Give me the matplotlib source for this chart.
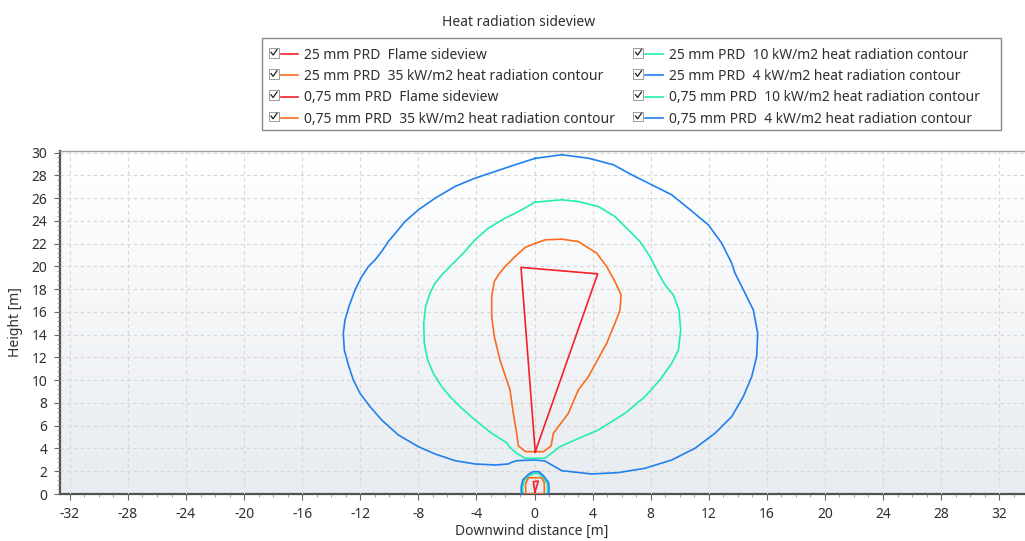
import numpy as np
import matplotlib
matplotlib.use("Agg")
import matplotlib.pyplot as plt
from matplotlib.lines import Line2D
from matplotlib.patches import Rectangle
from matplotlib.legend_handler import HandlerBase
from matplotlib.ticker import MultipleLocator

plt.rcParams['font.family'] = ['Noto Sans', 'DejaVu Sans']
plt.rcParams['axes.unicode_minus'] = False

# ---- data -------------------------------------------------------------
# 25 mm PRD flame side view (triangle, closed)
flame_25_x = [0.05, -0.93, 4.35, 0.05]
flame_25_y = [3.70, 19.92, 19.35, 3.70]

# 25 mm PRD 35 kW/m2 contour
c35_25_x = [0.03, 0.72, 1.87, 3.02, 4.28, 4.97, 5.54, 5.96, 5.89, 5.54, 4.97, 4.40, 3.71,
            3.02, 2.33, 1.64, 1.30, 1.14, 0.61, 0.03, -0.61, -1.11, -1.23, -1.46, -1.69,
            -1.92, -2.38, -2.77, -2.95, -2.95, -2.77, -2.49, -2.03, -1.34, -0.65, 0.03]
c35_25_y = [22.02, 22.34, 22.40, 22.19, 21.17, 19.99, 18.68, 17.50, 16.18, 15.01, 13.25, 11.93, 10.32,
            9.15, 7.09, 5.92, 5.34, 4.22, 3.72, 3.72, 3.72, 4.22, 5.34, 7.09, 9.15,
            10.03, 11.79, 13.84, 15.60, 17.36, 18.68, 19.26, 19.99, 20.87, 21.67, 22.02]

# 25 mm PRD 10 kW/m2 contour
c10_25_x = [0.03, 1.87, 3.02, 4.40, 5.54, 6.46, 7.27, 7.95, 8.53, 8.99, 9.56, 9.95, 10.07,
            9.91, 9.45, 8.64, 7.61, 6.23, 4.40, 2.79, 1.76, 0.72, 0.03, -0.65, -1.23,
            -1.69, -1.92, -2.95, -4.10, -5.13, -5.82, -6.39, -6.97, -7.36, -7.59, -7.63,
            -7.50, -7.20, -6.85, -6.39, -5.70, -4.90, -4.10, -3.18, -2.03, -0.88, 0.03]
c10_25_y = [25.65, 25.86, 25.71, 25.27, 24.39, 23.22, 22.19, 20.87, 19.41, 18.38, 17.50, 16.18, 14.42,
            12.66, 11.49, 10.03, 8.56, 7.09, 5.63, 4.75, 4.16, 3.14, 3.14, 3.14, 3.58,
            4.10, 4.51, 5.34, 6.51, 7.68, 8.56, 9.44, 10.61, 11.79, 13.25, 15.01,
            16.48, 17.65, 18.53, 19.26, 20.14, 21.17, 22.34, 23.37, 24.24, 24.98, 25.65]

# 25 mm PRD 4 kW/m2 contour
c4_25_x = [0.03, 1.87, 3.71, 5.43, 6.69, 8.07, 9.45, 10.59, 11.97, 12.89, 13.58, 13.81, 14.50,
           15.07, 15.37, 15.30, 14.96, 14.38, 13.58, 12.43, 11.05, 9.45, 7.61, 5.77, 3.94,
           1.87, 0.72, 0.03, -1.23, -1.57, -1.80, -2.72, -4.10, -5.48, -6.85, -8.00, -9.38,
           -10.53, -11.33, -12.02, -12.48, -12.82, -13.10, -13.17, -13.05, -12.78, -12.36,
           -11.90, -11.44, -10.98, -10.53, -10.07, -9.49, -8.92, -8.00, -6.85, -5.48, -4.10,
           -2.72, -1.34, 0.03]
c4_25_y = [29.50, 29.82, 29.52, 28.94, 28.06, 27.18, 26.30, 25.12, 23.66, 22.05, 20.29, 19.41, 17.65,
           16.18, 14.13, 12.08, 10.32, 8.56, 6.80, 5.34, 4.02, 2.99, 2.26, 1.88, 1.76,
           2.05, 2.90, 2.99, 2.93, 2.79, 2.64, 2.55, 2.64, 2.93, 3.52, 4.16, 5.19,
           6.51, 7.68, 8.85, 10.03, 11.35, 12.66, 14.13, 15.30, 16.48, 17.94,
           19.11, 19.99, 20.58, 21.31, 22.19, 23.07, 23.95, 24.98, 26.00, 27.03, 27.76,
           28.35, 28.94, 29.50]

# 0,75 mm PRD flame side view
flame_075_x = [0.03, -0.08, 0.26, 0.03]
flame_075_y = [0.15, 1.08, 1.14, 0.15]

# 0,75 mm PRD 35 kW/m2 contour
c35_075_x = [-0.60, -0.62, -0.42, 0.49, 0.67, 0.68, 0.66, -0.60]
c35_075_y = [0.00, 0.90, 1.43, 1.43, 1.00, 0.30, 0.00, 0.00]

# 0,75 mm PRD 10 kW/m2 contour
c10_075_x = [-0.80, -0.82, -0.70, -0.35, -0.05, 0.30, 0.55, 0.88, 0.90, 0.88, -0.80]
c10_075_y = [0.00, 0.60, 1.20, 1.60, 1.80, 1.80, 1.50, 0.90, 0.30, 0.00, 0.00]

# 0,75 mm PRD 4 kW/m2 contour
c4_075_x = [-0.90, -0.92, -0.80, -0.40, -0.10, 0.30, 0.62, 0.97, 1.00, 0.97, -0.90]
c4_075_y = [0.00, 0.60, 1.25, 1.75, 1.96, 1.96, 1.60, 1.00, 0.40, 0.00, 0.00]

x_ticks = list(range(-32, 33, 4))
y_ticks = list(range(0, 31, 2))

# ---- styling ----------------------------------------------------------
RED = '#f5202a'
ORANGE = '#fa6c1e'
GREEN = '#22eeb0'
BLUE = '#2080ee'


class CheckedLineHandler(HandlerBase):
    """Legend handle: a small ticked checkbox followed by a line sample."""

    def create_artists(self, legend, orig_handle, xdescent, ydescent,
                       width, height, fontsize, trans):
        s = 7.0
        x0 = -xdescent
        yc = height / 2 - ydescent
        y0 = yc - s / 2 + 1.0
        box = Rectangle((x0, y0), s, s, facecolor='white', edgecolor='#8c8c8c',
                        lw=0.6, transform=trans)
        tick = Line2D([x0 + 1.5, x0 + 3.0, x0 + 5.8], [y0 + 3.8, y0 + 1.8, y0 + 5.8],
                      color='#202020', lw=0.9, transform=trans)
        line = Line2D([x0 + s + 1.5, x0 + width], [yc, yc],
                      color=orig_handle.get_color(), lw=1.2, transform=trans)
        return [box, tick, line]


fig = plt.figure(figsize=(10.25, 5.41), dpi=100)
ax = fig.add_axes([60 / 1025, 47 / 541, 965 / 1025, 343 / 541])

# soft vertical gradient behind the plot
grad = np.linspace(0, 1, 256).reshape(-1, 1, 1)
top = np.array([1.0, 1.0, 1.0])
bottom = np.array([0xe8, 0xec, 0xf0]) / 255
img = bottom + (top - bottom) * grad
img = np.repeat(img, 2, axis=1)
ax.imshow(img, extent=[0, 1, 0, 1], transform=ax.transAxes, aspect='auto',
          origin='lower', zorder=0)

lw = 1.2
h_flame25, = ax.plot(flame_25_x, flame_25_y, color=RED, lw=lw, zorder=5)
h_c35_25, = ax.plot(c35_25_x, c35_25_y, color=ORANGE, lw=lw, zorder=4)
h_c10_25, = ax.plot(c10_25_x, c10_25_y, color=GREEN, lw=lw, zorder=3)
h_c4_25, = ax.plot(c4_25_x, c4_25_y, color=BLUE, lw=lw, zorder=3)
h_flame075, = ax.plot(flame_075_x, flame_075_y, color=RED, lw=lw, zorder=5)
h_c35_075, = ax.plot(c35_075_x, c35_075_y, color=ORANGE, lw=lw, zorder=4)
h_c10_075, = ax.plot(c10_075_x, c10_075_y, color=GREEN, lw=lw, zorder=3)
h_c4_075, = ax.plot(c4_075_x, c4_075_y, color=BLUE, lw=lw, zorder=3)

ax.set_xlim(-32.68, 33.78)
ax.set_ylim(0, 30.15)
ax.set_xticks(x_ticks)
ax.set_yticks(y_ticks)
ax.xaxis.set_minor_locator(MultipleLocator(1))
ax.yaxis.set_minor_locator(MultipleLocator(0.4))
ax.tick_params(which='major', direction='out', length=4, width=0.8, color='#666666',
               labelsize=10, labelcolor='#303030', pad=5)
ax.tick_params(which='minor', direction='out', length=2, width=0.6, color='#888888')
ax.grid(True, which='major', color='#d6d6d6', lw=0.8, ls=(0, (3, 3)), zorder=1)
ax.set_axisbelow(False)

for side in ('left', 'bottom'):
    ax.spines[side].set_color('#505050')
    ax.spines[side].set_linewidth(1.6)
ax.spines['top'].set_color('#a0a0a0')
ax.spines['top'].set_linewidth(1.0)
ax.spines['right'].set_visible(False)

ax.set_xlabel('Downwind distance [m]', fontsize=10, color='#303030')
ax.set_ylabel('Height [m]', fontsize=10, color='#303030')
ax.xaxis.set_label_coords(0.489, -0.087)
ax.yaxis.set_label_coords(-0.038, 0.5)

fig.text(519 / 1025, 1 - 23 / 541, 'Heat radiation sideview', ha='center', va='center',
         fontsize=10, color='#303030')

handles = [h_flame25, h_c35_25, h_flame075, h_c35_075,
           h_c10_25, h_c4_25, h_c10_075, h_c4_075]
labels = ['25 mm PRD  Flame sideview',
          '25 mm PRD  35 kW/m2 heat radiation contour',
          '0,75 mm PRD  Flame sideview',
          '0,75 mm PRD  35 kW/m2 heat radiation contour',
          '25 mm PRD  10 kW/m2 heat radiation contour',
          '25 mm PRD  4 kW/m2 heat radiation contour',
          '0,75 mm PRD  10 kW/m2 heat radiation contour',
          '0,75 mm PRD  4 kW/m2 heat radiation contour']
leg = fig.legend(handles, labels, ncol=2, loc='upper left',
                 bbox_to_anchor=(262 / 1025, 1 - 41 / 541), bbox_transform=fig.transFigure,
                 borderaxespad=0, fontsize=10, frameon=False,
                 handlelength=2.1, handletextpad=0.45, columnspacing=1.3,
                 labelspacing=0.45, borderpad=0.5,
                 handler_map={Line2D: CheckedLineHandler()})
for t in leg.get_texts():
    t.set_color('#303030')

# legend frame
fig.patches.append(Rectangle((262 / 1025, 1 - 130 / 541), (1001 - 262) / 1025, 92 / 541,
                             transform=fig.transFigure, facecolor='white',
                             edgecolor='#8a8a8a', lw=1.0, zorder=-1))

fig.savefig('out.png', dpi=100)
